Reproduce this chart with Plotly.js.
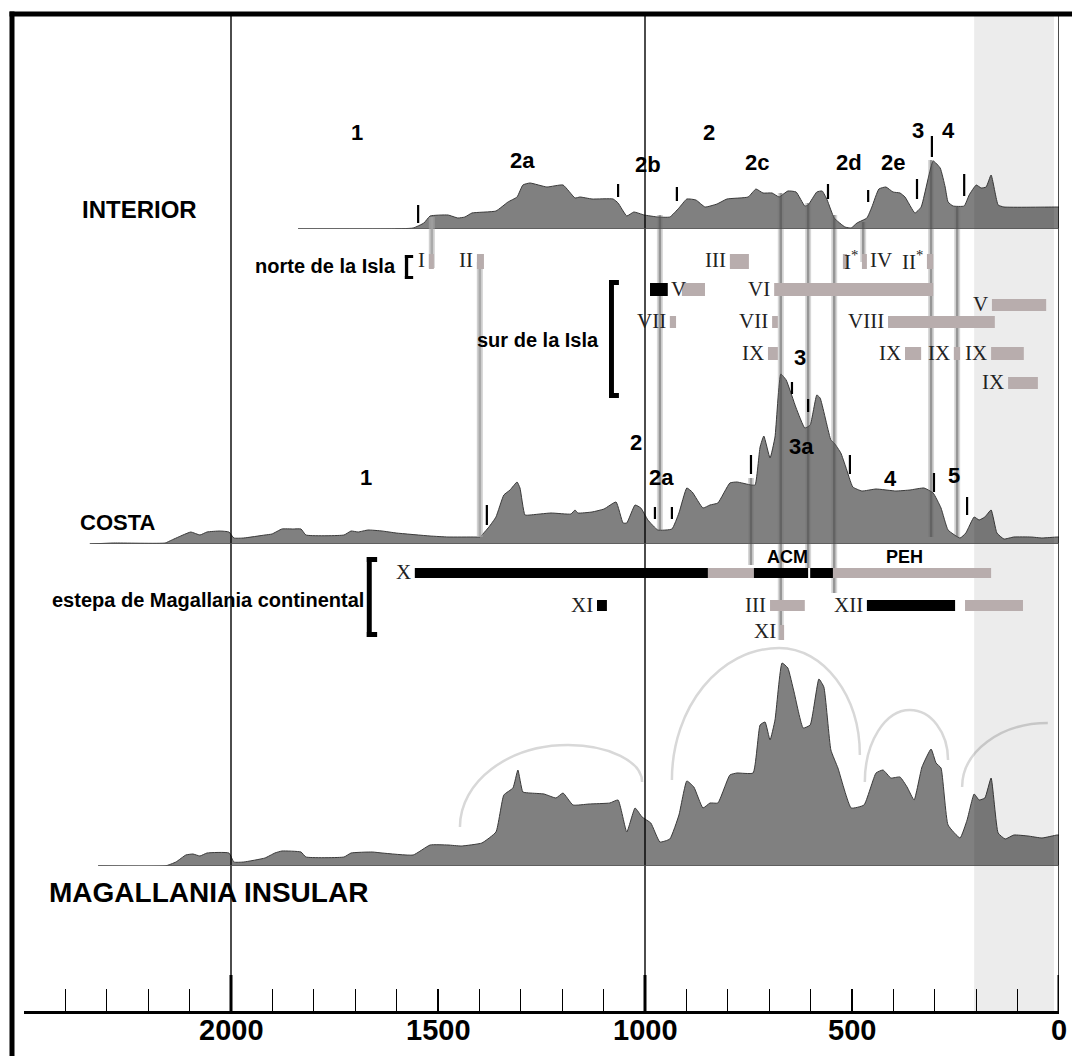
<!DOCTYPE html>
<html><head><meta charset="utf-8">
<script src="https://cdn.plot.ly/plotly-3.0.1.min.js"></script>
<style>html,body{margin:0;padding:0;background:#fff}#chart{width:1072px;height:1056px}</style>
</head><body><div id="chart"></div>
<script>
// ---------------- DATA (years BP, relative frequency) ----------------
const interiorYears = [1838,1618,1560,1534,1519,1476,1452,1435,1418,1360,1331,1309,1295,1278,1237,1198,1169,1157,1128,1077,1065,1044,1027,1002,969,940,918,899,877,855,826,802,751,732,715,693,676,655,635,614,606,585,572,560,543,517,502,488,464,452,435,418,401,384,372,348,333,304,287,275,268,256,229,217,200,188,176,164,147,133,5,0];
const interiorVals  = [0,0,1,6,13,14,11,12,16,18,27,32,44,46,42,44,31,32,30,30,26,13,17,14,12,12,21,30,29,22,25,30,32,40,36,36,32,38,37,23,24,37,38,29,11,2,1,6,11,22,40,42,37,36,32,16,22,68,61,42,27,23,23,34,44,41,42,54,24,22,22,22];

const costaYears = [2341,2283,2159,2143,2116,2097,2075,2058,2027,2005,1993,1969,1918,1901,1877,1850,1831,1819,1727,1710,1693,1669,1635,1601,1519,1476,1411,1399,1377,1360,1341,1326,1309,1302,1290,1278,1227,1179,1169,1162,1128,1099,1070,1053,1044,1024,1010,993,969,935,918,899,886,860,843,824,795,778,744,734,722,713,698,686,672,659,635,614,601,585,577,551,543,527,515,498,476,442,394,360,326,304,285,268,239,225,205,193,179,164,150,133,109,68,41,5,0];
const costaVals  = [0,1,1,4,9,12,9,12,13,12,6,6,9,10,15,15,15,9,9,13,12,14,13,11,8,7,7,7,17,27,49,54,62,56,29,29,31,30,34,31,32,35,42,21,21,39,36,24,14,15,31,56,52,36,39,41,61,62,59,59,97,108,86,107,170,164,136,116,119,149,146,104,101,91,77,57,53,55,53,54,56,51,36,14,6,11,27,24,27,34,11,5,7,7,6,7,7];

const insularYears = [2321,2159,2133,2109,2092,2075,2058,2005,1993,1969,1918,1894,1877,1831,1819,1727,1710,1659,1635,1560,1519,1476,1444,1394,1360,1341,1319,1307,1295,1278,1244,1215,1198,1174,1135,1085,1065,1044,1024,1007,986,964,940,918,899,882,860,843,824,795,778,739,722,710,698,686,669,655,640,618,601,580,568,551,534,502,471,442,425,406,384,367,350,331,309,297,285,268,239,222,205,193,179,164,147,130,109,75,41,5,0];
const insularVals  = [0,0,4,11,12,10,13,13,4,4,8,13,15,14,9,9,13,14,13,11,21,21,20,23,34,71,78,96,74,73,72,68,73,61,62,63,66,34,58,49,43,24,27,51,85,79,58,63,63,91,93,93,141,144,126,146,203,198,174,138,141,187,179,116,98,58,61,93,96,88,89,79,66,99,117,103,98,41,28,46,72,66,68,88,33,27,31,30,28,31,31];

// phases
const interiorPhaseLabels = ['1','2a','2b','2','2c','2d','2e','3','4'];
const interiorPhaseYears  = [1696,1297,993,845,730,507,401,341,268];
const costaPhaseLabels = ['1','2','2a','3','3a','4','5'];
const costaPhaseYears  = [1674,1022,959,626,623,408,254];
const interiorBreakYears = [1548,1065,923,558,461,343,307,229];
const costaBreakYears = [1382,976,935,744,645,606,505,302,222];

// Isla Grande de Tierra del Fuego ranges
const islaBarStart = [1522,1406,795,522,476,319,988,911,688,162,940,693,413,703,372,254,164,123];
const islaBarEnd   = [1510,1389,749,512,464,304,945,855,304,31,925,679,155,679,333,239,85,51];
const islaBarTone  = ['g','g','g','g','g','g','k','g','g','g','g','g','g','g','g','g','g','g'];
const islaBarRow   = [0,0,0,0,0,0,1,1,1,2,3,3,3,4,4,4,4,5];
const islaBarLabel = ['I','II','III','','I<sup>*</sup>','II<sup>*</sup>','','','VI','V','VII','VII','VIII','IX','IX','IX','IX','IX'];
const islaExtraLabels = ['IV','V'];
const islaExtraYears  = [430,918];
const islaExtraRows   = [0,1];

// continental steppe ranges
const contBarStart = [1556,848,737,601,546,1116,698,464,227,674];
const contBarEnd   = [848,737,606,546,164,1092,614,251,87,664];
const contBarTone  = ['k','g','k','k','g','k','g','k','g','g'];
const contBarRow   = [0,0,0,0,0,1,1,1,1,2];
const contBarLabel = ['X','','','','','XI','III','XII','','XI'];

// correlation lines
const connYears = [1515,1399,964,672,606,543,473,309,246,744];

// arcs on Magallania insular
const arcStartYear = [1447,935,469,234];
const arcStartVal  = [39,86,84,79];
const arcTopYear   = [1186,676,360,27];
const arcTopVal    = [121,218,156,143];
const arcEndYear   = [1007,481,268,null];
const arcEndVal    = [84,111,106,null];

const tickYears = []; for (let v = 0; v <= 2500; v += 100) tickYears.push(v);
const tickLabelYears = [0,500,1000,1500,2000];

// ---------------- LAYOUT HELPERS ----------------
const PH = 996, PW = 1035;
const py = y => (1012 - y) / PH;
const pxp = x => (x - 24) / PW;
const SANS = 'Liberation Sans, Arial, sans-serif';
const SERIF = 'Liberation Serif, Times New Roman, serif';
const GRAYBAR = '#b8adad';

const shapes = [];
const ann = [];

// shaded recent band
shapes.push({type:'rect', xref:'x', yref:'paper', x0:205, x1:12, y0:0, y1:1, fillcolor:'rgba(0,0,0,0.075)', line:{width:0}, layer:'above'});

// frame
shapes.push({type:'rect', xref:'paper', yref:'paper', x0:pxp(9.5), x1:pxp(1072), y0:py(16.5), y1:py(11.5), fillcolor:'#000', line:{width:0}});
shapes.push({type:'rect', xref:'paper', yref:'paper', x0:pxp(9.5), x1:pxp(14.5), y0:py(1056), y1:py(11.5), fillcolor:'#000', line:{width:0}});

// millennium lines
[2000,1000,0].forEach(v => {
  shapes.push({type:'line', xref:'x', yref:'paper', x0:v, x1:v, y0:0, y1:1, line:{color:'#000', width:1.4}});
  shapes.push({type:'line', xref:'x', yref:'paper', x0:v, x1:v, y0:py(1012), y1:py(975), line:{color:'#000', width:3}});
});

// baselines
[[interiorYears,'y'],[costaYears,'y2'],[insularYears,'y3']].forEach(([ys,ax]) => {
  shapes.push({type:'line', xref:'x', yref:ax, x0:ys[0], x1:0, y0:0, y1:0, line:{color:'#555', width:1.5}});
});

// arcs
const K = 0.5523;
for (let i = 0; i < arcStartYear.length; i++) {
  const x0 = arcStartYear[i], y0 = arcStartVal[i], xt = arcTopYear[i], yt = arcTopVal[i];
  let p = `M ${x0},${y0} C ${x0},${y0 + K*(yt-y0)} ${xt + K*(x0-xt)},${yt} ${xt},${yt}`;
  if (arcEndYear[i] !== null) {
    const x1 = arcEndYear[i], y1 = arcEndVal[i];
    p += ` C ${xt + K*(x1-xt)},${yt} ${x1},${y1 + K*(yt-y1)} ${x1},${y1}`;
  }
  shapes.push({type:'path', xref:'x', yref:'y3', path:p, line:{color:'#d8d8d8', width:2.5}, layer:'below'});
}

// correlation lines (pixel extents)
const connTop = [217,262,215,193,203,215,222,160,207,478];
const connBot = [268,537,530,640,568,593,262,537,537,565];
connYears.forEach((v,i) => {
  const light = i < 2;
  shapes.push({type:'line', xref:'x', yref:'paper', x0:v, x1:v, y0:py(connBot[i]), y1:py(connTop[i]),
    line:{color: light ? 'rgba(170,170,170,0.55)' : 'rgba(110,110,110,0.28)', width:6}});
  shapes.push({type:'line', xref:'x', yref:'paper', x0:v, x1:v, y0:py(connBot[i]), y1:py(connTop[i]),
    line:{color: light ? 'rgba(160,160,160,0.8)' : 'rgba(70,70,70,0.45)', width:2.5}});
});

// period break marks
const intMarkPx = [[205,223],[184,197],[187,201],[184,199],[190,202],[179,199],[136,157],[174,196]];
interiorBreakYears.forEach((v,i) => shapes.push({type:'line', xref:'x', yref:'paper', x0:v, x1:v, y0:py(intMarkPx[i][1]), y1:py(intMarkPx[i][0]), line:{color:'#000', width:2.2}}));
const costaMarkPx = [[505,525],[507,519],[507,519],[455,474],[382,394],[399,412],[455,474],[473,492],[497,515]];
costaBreakYears.forEach((v,i) => shapes.push({type:'line', xref:'x', yref:'paper', x0:v, x1:v, y0:py(costaMarkPx[i][1]), y1:py(costaMarkPx[i][0]), line:{color:'#000', width:2.2}}));

// range bars
const islaRowPx = [[254,269],[283,296],[299,311],[316,328],[347,360],[377,389]];
islaBarStart.forEach((s,i) => {
  const r = islaRowPx[islaBarRow[i]];
  shapes.push({type:'rect', xref:'x', yref:'paper', x0:s, x1:islaBarEnd[i], y0:py(r[1]), y1:py(r[0]),
    fillcolor: islaBarTone[i]==='k' ? '#000' : GRAYBAR, line:{width:0}});
  if (islaBarLabel[i]) ann.push({xref:'x', yref:'paper', x:s, y:py((r[0]+r[1])/2), xanchor:'right', yanchor:'middle', xshift:-2, yshift:1,
    text:islaBarLabel[i], showarrow:false, font:{family:SERIF, size:21, color:'#222'}});
});
islaExtraLabels.forEach((t,i) => {
  const r = islaRowPx[islaExtraRows[i]];
  ann.push({xref:'x', yref:'paper', x:islaExtraYears[i], y:py((r[0]+r[1])/2), xanchor:'center', yanchor:'middle', yshift:1,
    text:t, showarrow:false, font:{family:SERIF, size:21, color:'#222'}});
});
const contRowPx = [[568,578],[600,611],[625,640]];
contBarStart.forEach((s,i) => {
  const r = contRowPx[contBarRow[i]];
  shapes.push({type:'rect', xref:'x', yref:'paper', x0:s, x1:contBarEnd[i], y0:py(r[1]), y1:py(r[0]),
    fillcolor: contBarTone[i]==='k' ? '#000' : GRAYBAR, line:{width:0}});
  if (contBarLabel[i]) ann.push({xref:'x', yref:'paper', x:s, y:py((r[0]+r[1])/2), xanchor:'right', yanchor:'middle', xshift:-2, yshift:1,
    text:contBarLabel[i], showarrow:false, font:{family:SERIF, size:21, color:'#222'}});
});

// brackets
function bracket(xa, xb, xc, ytop, ybot, cap) {
  shapes.push({type:'rect', xref:'x', yref:'paper', x0:xa, x1:xb, y0:py(ybot), y1:py(ytop), fillcolor:'#000', line:{width:0}});
  shapes.push({type:'rect', xref:'x', yref:'paper', x0:xa, x1:xc, y0:py(ytop+cap), y1:py(ytop), fillcolor:'#000', line:{width:0}});
  shapes.push({type:'rect', xref:'x', yref:'paper', x0:xa, x1:xc, y0:py(ybot), y1:py(ybot-cap), fillcolor:'#000', line:{width:0}});
}
bracket(1580,1572,1560,255,279,3);
bracket(1087,1075,1063,280,398,5);
bracket(1672,1660,1647,557,637,5);

// text labels
const bold = (size) => ({family:SANS, size:size, color:'#000', weight:'bold'});
function lab(text, x, y, size, xanchor, xref) {
  ann.push({xref:xref||'x', yref:'paper', x:x, y:py(y), xanchor:xanchor||'center', yanchor:'middle', text:text, showarrow:false, font:bold(size)});
}
lab('INTERIOR', pxp(80), 210, 24, 'left', 'paper');
lab('COSTA', pxp(78), 522, 22, 'left', 'paper');
lab('MAGALLANIA INSULAR', pxp(47), 892, 28, 'left', 'paper');
lab('norte de la Isla', pxp(398), 266, 20, 'right', 'paper');
lab('sur de la Isla', pxp(601), 340, 20, 'right', 'paper');
lab('estepa de Magallania continental', pxp(366), 600, 20, 'right', 'paper');
const intPhasePx = [132,160,165,132,162,163,163,130,130];
interiorPhaseLabels.forEach((t,i) => lab(t, interiorPhaseYears[i], intPhasePx[i], 22));
const costaPhasePx = [477,442,477,357,446,478,476];
costaPhaseLabels.forEach((t,i) => lab(t, costaPhaseYears[i], costaPhasePx[i], 22));
lab('ACM', 655, 557, 18);
lab('PEH', 372, 557, 18);
// x-axis tick labels
tickLabelYears.forEach(v => lab(String(v), v, 1030, 29));

// ---------------- TRACES ----------------
const area = (xs, ys, ax) => ({x:xs, y:ys, yaxis:ax, type:'scatter', mode:'lines', fill:'tozeroy',
  fillcolor:'#808080', line:{color:'#3a3a3a', width:1, shape:'spline', smoothing:0.4}, hoverinfo:'skip'});
const data = [area(interiorYears, interiorVals, 'y'), area(costaYears, costaVals, 'y2'), area(insularYears, insularVals, 'y3')];

const hid = {visible:false, fixedrange:true};
const layout = {
  width:1072, height:1056,
  margin:{l:24, r:13, t:16, b:44},
  paper_bgcolor:'#fff', plot_bgcolor:'#fff',
  showlegend:false,
  xaxis:{range:[2500,0], anchor:'free', position:0, showgrid:false, zeroline:false, showline:true, linewidth:3, linecolor:'#000',
    ticks:'inside', ticklen:22, tickwidth:1.2, tickcolor:'#000',
    tickmode:'array', tickvals:tickYears, showticklabels:false, fixedrange:true},
  yaxis: Object.assign({domain:[py(229), py(229)+200/PH], range:[0,200]}, hid),
  yaxis2: Object.assign({domain:[py(544), py(544)+300/PH], range:[0,300]}, hid),
  yaxis3: Object.assign({domain:[py(866), py(866)+300/PH], range:[0,300]}, hid),
  shapes:shapes,
  annotations:ann
};
Plotly.newPlot('chart', data, layout, {displayModeBar:false, staticPlot:true});
</script>
</body></html>
